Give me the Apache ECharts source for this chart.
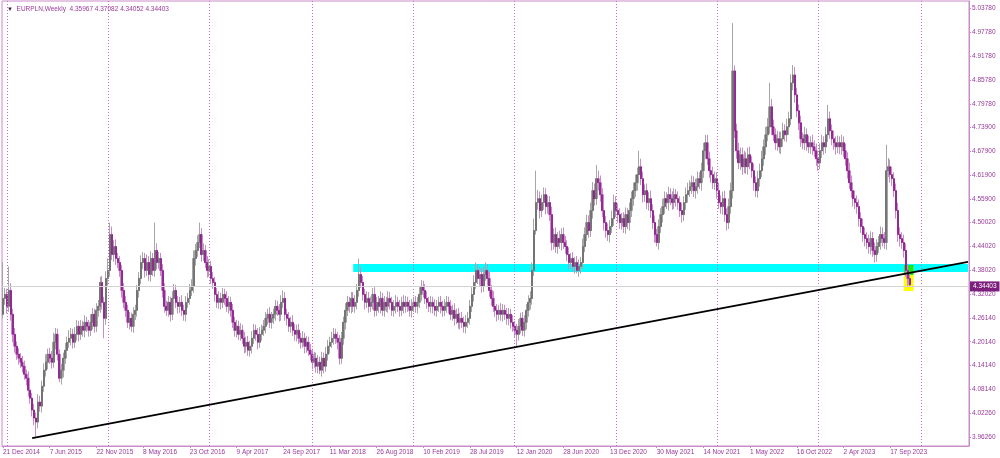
<!DOCTYPE html>
<html><head><meta charset="utf-8">
<script src="https://cdn.jsdelivr.net/npm/echarts@6/dist/echarts.min.js"></script>
<style>html,body{margin:0;padding:0;background:#fff}#c{width:1000px;height:458px}</style>
</head><body><div id="c"></div>
<script>
// Weekly closes, index 0 = week of 21 Dec 2014
const closes = [
4.31,4.32,4.29,4.33,4.27,4.22,4.19,4.17,4.16,4.15,
4.14,4.12,4.11,4.08,4.06,4.03,4.01,4.00,4.05,4.04,
4.09,4.13,4.15,4.17,4.16,4.15,4.20,4.22,4.17,4.11,
4.13,4.16,4.18,4.20,4.21,4.22,4.20,4.22,4.24,4.22,
4.24,4.23,4.25,4.24,4.23,4.25,4.27,4.24,4.28,4.29,
4.35,4.30,4.26,4.36,4.38,4.47,4.42,4.44,4.41,4.40,
4.38,4.33,4.30,4.28,4.25,4.26,4.24,4.27,4.28,4.33,
4.36,4.40,4.41,4.38,4.40,4.37,4.41,4.38,4.43,4.40,
4.41,4.38,4.33,4.29,4.28,4.30,4.27,4.31,4.33,4.30,
4.29,4.30,4.28,4.27,4.30,4.31,4.33,4.34,4.41,4.43,
4.45,4.47,4.42,4.43,4.40,4.38,4.39,4.36,4.35,4.32,
4.30,4.31,4.30,4.32,4.31,4.29,4.30,4.28,4.25,4.23,
4.24,4.22,4.23,4.21,4.19,4.20,4.18,4.19,4.21,4.23,
4.22,4.20,4.22,4.23,4.24,4.26,4.27,4.25,4.26,4.27,
4.29,4.28,4.27,4.30,4.31,4.27,4.26,4.24,4.25,4.23,
4.22,4.23,4.21,4.20,4.21,4.19,4.20,4.18,4.17,4.15,
4.16,4.14,4.15,4.13,4.16,4.14,4.17,4.19,4.20,4.21,
4.22,4.21,4.20,4.16,4.21,4.25,4.28,4.30,4.29,4.31,
4.29,4.30,4.33,4.37,4.35,4.32,4.30,4.31,4.29,4.30,
4.32,4.28,4.30,4.29,4.31,4.28,4.30,4.29,4.31,4.30,
4.28,4.29,4.30,4.29,4.28,4.30,4.29,4.30,4.29,4.28,
4.29,4.30,4.29,4.30,4.32,4.34,4.33,4.31,4.30,4.29,
4.30,4.29,4.28,4.29,4.30,4.29,4.28,4.29,4.30,4.29,
4.27,4.28,4.26,4.27,4.25,4.26,4.25,4.24,4.25,4.26,
4.29,4.32,4.35,4.38,4.36,4.37,4.34,4.37,4.38,4.36,
4.33,4.31,4.29,4.28,4.27,4.28,4.27,4.28,4.27,4.26,
4.27,4.25,4.24,4.23,4.22,4.24,4.26,4.23,4.25,4.28,
4.30,4.31,4.38,4.48,4.55,4.56,4.53,4.55,4.57,4.54,
4.55,4.52,4.45,4.47,4.44,4.46,4.45,4.47,4.45,4.44,
4.42,4.40,4.41,4.39,4.40,4.38,4.39,4.40,4.44,4.47,
4.50,4.48,4.53,4.58,4.56,4.61,4.60,4.57,4.53,4.50,
4.48,4.47,4.49,4.51,4.55,4.53,4.52,4.50,4.51,4.49,
4.52,4.50,4.53,4.56,4.58,4.60,4.62,4.64,4.61,4.57,
4.58,4.55,4.56,4.53,4.50,4.47,4.45,4.49,4.52,4.54,
4.56,4.55,4.57,4.56,4.55,4.57,4.56,4.55,4.53,4.52,
4.55,4.57,4.58,4.59,4.60,4.58,4.59,4.61,4.60,4.63,
4.68,4.70,4.66,4.63,4.62,4.60,4.61,4.58,4.55,4.54,
4.56,4.52,4.50,4.54,4.58,4.88,4.73,4.68,4.65,4.67,
4.64,4.66,4.64,4.67,4.65,4.63,4.60,4.58,4.61,4.63,
4.66,4.69,4.72,4.74,4.79,4.74,4.72,4.70,4.71,4.69,
4.71,4.73,4.72,4.74,4.76,4.85,4.87,4.82,4.78,4.75,
4.71,4.70,4.72,4.70,4.69,4.70,4.69,4.68,4.66,4.65,
4.68,4.70,4.69,4.72,4.76,4.73,4.71,4.70,4.69,4.70,
4.69,4.70,4.68,4.66,4.63,4.60,4.58,4.56,4.55,4.54,
4.51,4.49,4.47,4.46,4.45,4.44,4.46,4.43,4.42,4.44,
4.45,4.47,4.46,4.45,4.63,4.64,4.62,4.61,4.58,4.53,
4.47,4.46,4.45,4.43,4.38,4.35967,4.34403
];
const firstOpen = 4.27;
// wick lengths above / below the body, in thousandths of a zloty
const upperWick = [
90,16,14,60,18,14,16,12,15,13,
16,14,12,17,15,13,16,14,20,16,
14,17,20,14,16,18,24,16,14,12,
16,14,18,14,20,16,14,18,16,14,
16,14,18,14,16,20,16,14,18,16,
14,16,14,18,30,30,20,16,18,14,
16,14,18,16,14,16,14,18,14,14,
16,18,16,14,20,16,18,14,70,18,
16,14,16,18,14,16,14,18,16,14,
16,14,18,14,16,14,16,18,20,16,
18,30,16,18,14,16,18,14,16,14,
16,18,14,16,14,18,16,14,16,14,
16,14,18,14,16,14,16,14,18,16,
14,16,18,14,16,16,14,18,16,14,
16,14,16,18,20,16,14,16,14,18,
16,14,16,14,18,14,16,14,16,14,
16,14,18,14,16,14,18,16,14,16,
16,14,16,18,16,14,18,16,14,16,
16,18,16,40,18,16,14,18,16,14,
16,18,14,16,18,14,16,14,18,16,
14,16,18,14,16,14,18,16,14,16,
18,14,16,14,18,16,14,16,18,14,
16,14,18,16,14,16,14,18,16,14,
16,14,18,14,16,14,16,14,18,16,
16,18,18,20,16,18,16,18,20,16,
16,14,18,14,16,14,18,16,14,16,
16,14,18,14,16,18,14,16,18,16,
18,18,20,30,80,22,18,20,18,16,
18,16,20,16,18,16,20,16,18,16,
16,18,14,16,14,16,18,14,20,18,
20,18,20,22,18,34,20,18,16,18,
16,18,16,20,20,16,18,16,14,16,
18,16,20,18,20,20,18,40,20,18,
16,18,16,20,16,18,14,18,16,20,
18,16,20,16,18,16,14,18,16,20,
16,18,20,16,18,16,20,18,16,20,
20,20,20,18,16,20,18,16,20,18,
18,20,16,20,20,120,14,18,20,18,
18,20,16,18,20,16,18,16,20,18,
20,18,20,22,60,20,18,16,20,18,
18,20,16,20,18,22,25,20,18,16,
18,16,20,16,18,16,20,16,18,16,
18,20,16,20,35,18,16,20,16,18,
16,20,16,18,16,20,18,16,20,18,
18,16,20,18,16,20,18,16,20,18,
16,20,18,16,65,22,18,20,16,18,
20,18,16,20,18,16,11.15
];
const lowerWick = [
10,16,18,14,16,20,16,14,16,14,
16,14,18,16,14,16,18,37,16,14,
16,14,16,18,14,16,14,18,16,10,
16,18,14,16,14,18,16,14,16,18,
14,16,18,14,16,14,18,16,14,16,
16,18,50,16,18,16,14,18,16,14,
16,18,14,16,14,18,14,16,14,16,
18,14,16,18,14,16,18,14,16,18,
16,14,18,16,14,16,18,14,16,14,
18,16,14,16,18,14,16,14,16,18,
16,14,18,16,14,18,16,14,16,18,
14,16,18,14,16,14,18,16,14,16,
18,14,16,14,18,16,14,16,18,14,
16,18,14,16,14,18,16,14,16,14,
16,14,18,16,14,16,18,14,16,14,
16,18,14,16,14,18,16,14,16,18,
14,16,18,10,16,18,14,16,18,14,
16,14,18,16,14,16,18,14,16,18,
14,16,18,16,14,16,18,14,16,14,
18,16,14,16,18,14,16,14,16,18,
14,16,18,14,16,14,18,16,14,16,
18,14,16,18,14,16,18,14,16,14,
16,18,14,16,14,18,16,14,16,18,
14,16,18,14,16,18,14,16,18,14,
16,14,18,16,14,18,16,14,16,18,
16,18,14,16,18,14,16,18,14,16,
18,16,14,18,30,16,18,14,16,18,
16,18,16,14,10,18,20,16,18,20,
18,16,20,18,16,18,16,20,16,18,
16,18,16,14,18,7,16,18,16,14,
16,18,16,20,18,16,20,18,16,20,
18,16,20,16,18,16,20,16,18,16,
18,16,20,16,18,16,20,18,16,20,
18,16,20,18,16,20,10,18,16,20,
18,16,20,16,18,16,20,18,16,20,
16,18,20,16,18,16,20,18,16,20,
18,20,16,18,20,16,18,20,16,18,
20,18,20,16,18,20,18,20,16,18,
20,16,18,20,16,18,20,16,18,20,
16,18,20,16,18,20,16,18,20,16,
18,20,16,18,20,16,18,20,16,18,
20,16,18,20,16,18,20,16,18,20,
16,18,20,16,18,20,16,18,20,16,
18,20,16,18,20,16,18,20,16,18,
20,16,18,20,16,18,20,16,20,18,
16,18,20,16,18,16,20,18,16,20,
18,20,16,18,16,18,3.51
];
const tickLabels = ['21 Dec 2014','7 Jun 2015','22 Nov 2015','8 May 2016','23 Oct 2016','9 Apr 2017','24 Sep 2017','11 Mar 2018','26 Aug 2018','10 Feb 2019','28 Jul 2019','12 Jan 2020','28 Jun 2020','13 Dec 2020','30 May 2021','14 Nov 2021','1 May 2022','16 Oct 2022','2 Apr 2023','17 Sep 2023'];
const weeksPerLabel = 24;
const priceTicks = [5.0378,4.9778,4.9178,4.8578,4.7978,4.739,4.679,4.619,4.559,4.5002,4.4402,4.3802,4.3202,4.2614,4.2014,4.1414,4.0814,4.0226,3.9626];
const yearSeparatorWeeks = [2,54,106,159,211,263,315,367,419,472];
const weekSlots = 497;
const lastPrice = 4.34403;
const headerText = 'EURPLN,Weekly  4.35967 4.37082 4.34052 4.34403';
const supportZone = {from: 180, to: 496, top: 4.3962, bottom: 4.3762};
const trendPoints = [[15, 3.9597], [496, 4.4014]];
const markerBox = {from: 463, to: 468, top: 4.3910, bottom: 4.3285};
const markerOverlap = {from: 463, to: 468, top: 4.3936, bottom: 4.3686};

const categories = Array.from({length: weekSlots}, (_, i) => i);
const ohlc = closes.map((c, i) => {
  const o = i === 0 ? firstOpen : closes[i - 1];
  return [o, c, Math.min(o, c) - lowerWick[i] / 1000, Math.max(o, c) + upperWick[i] / 1000];
});
const bodies = ohlc.map(d => [d[0], d[1], Math.min(d[0], d[1]), Math.max(d[0], d[1])]);

const purple = '#9a3a9a';
const frame = '#c98cc9';
const font = 'Liberation Sans';
const isLabelIdx = i => i % weeksPerLabel === 0 && i / weeksPerLabel < tickLabels.length;

const chart = echarts.init(document.getElementById('c'), null, {renderer: 'canvas'});
chart.setOption({
  animation: false,
  backgroundColor: '#ffffff',
  textStyle: {fontFamily: font},
  title: {
    text: '{t|▼}  ' + headerText, left: 2, top: 1,
    textStyle: {fontSize: 6.5, color: purple, fontWeight: 'normal', fontFamily: font,
      rich: {t: {color: '#4a204a', fontSize: 6}}}
  },
  grid: {left: 1, right: 31, top: 1, bottom: 12, show: true, borderColor: frame, borderWidth: 1, backgroundColor: '#ffffff'},
  xAxis: {
    type: 'category', data: categories, boundaryGap: true,
    axisLine: {show: true, lineStyle: {color: frame}},
    axisTick: {show: true, alignWithLabel: true, interval: isLabelIdx, length: 2, lineStyle: {color: frame}},
    axisLabel: {interval: isLabelIdx, formatter: (v, i) => tickLabels[i / weeksPerLabel] || '',
      align: 'left', color: purple, fontSize: 6.5, margin: 3, fontFamily: font},
    splitLine: {show: false}
  },
  yAxis: {
    type: 'value', position: 'right', min: 3.94002, max: 5.05534,
    axisLine: {show: true, lineStyle: {color: frame}},
    axisTick: {show: true, customValues: priceTicks, length: 2, lineStyle: {color: frame}},
    axisLabel: {customValues: priceTicks, formatter: v => v.toFixed(5), color: purple, fontSize: 6.5, margin: 3, fontFamily: font},
    splitLine: {show: false}
  },
  series: [
    {
      type: 'line', data: [], z: 1, silent: true,
      markArea: {
        silent: true,
        data: [
          [{coord: [supportZone.from, supportZone.top], itemStyle: {color: '#00ffff', opacity: 1}}, {coord: [supportZone.to, supportZone.bottom]}],
          [{coord: [markerBox.from, markerBox.top], itemStyle: {color: '#ffff00', opacity: 1}}, {coord: [markerBox.to, markerBox.bottom]}],
          [{coord: [markerOverlap.from, markerOverlap.top], itemStyle: {color: '#1ee61e', opacity: 1}}, {coord: [markerOverlap.to, markerOverlap.bottom]}]
        ]
      },
      markLine: {
        silent: true, symbol: ['none', 'none'],
        data: yearSeparatorWeeks.map(w => ({xAxis: w, lineStyle: {color: '#c46ec4', type: [1, 2], width: 1}, label: {show: false}}))
          .concat([{yAxis: lastPrice, lineStyle: {color: '#d2d2d2', type: 'solid', width: 1},
            label: {show: true, position: 'end', distance: 1, formatter: lastPrice.toFixed(5), color: '#ffffff',
              backgroundColor: '#7d1f7d', padding: [2, 3, 1, 3], fontSize: 6.5, fontFamily: font}}])
      }
    },
    {
      type: 'candlestick', data: ohlc, z: 2, silent: true, barWidth: 2,
      itemStyle: {color: '#b0b0b0', color0: '#cf96cf', borderColor: '#a6a6a6', borderColor0: '#c98cc9', borderWidth: 1}
    },
    {
      type: 'candlestick', data: bodies, z: 3, silent: true, barWidth: 1.5,
      itemStyle: {color: '#6e6e6e', color0: '#880f88', borderColor: '#646464', borderColor0: '#880f88', borderWidth: 0.6}
    },
    {
      type: 'line', data: [], z: 4, silent: true,
      markLine: {
        silent: true, symbol: ['none', 'none'], label: {show: false},
        lineStyle: {color: '#000000', width: 1.8, type: 'solid'},
        data: [[{coord: trendPoints[0]}, {coord: trendPoints[1]}]]
      }
    }
  ]
});
</script>
</body></html>
